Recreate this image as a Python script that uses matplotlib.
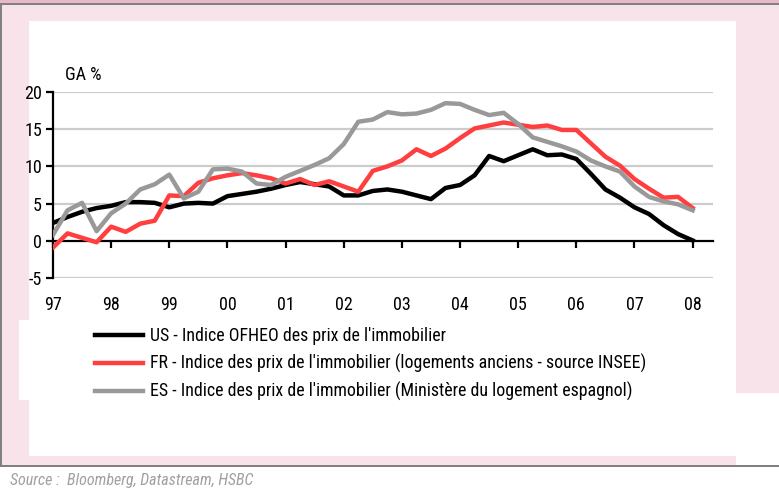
import matplotlib.pyplot as plt
import matplotlib.patches as patches
import numpy as np

plt.rcParams['font.family'] = ['Roboto Condensed', 'Liberation Sans Narrow', 'Arial Narrow',
                               'Liberation Sans', 'DejaVu Sans']
plt.rcParams['axes.unicode_minus'] = False

# quarterly data, 97Q1 -> 08Q1 (y/y % change)
years = ['97', '98', '99', '00', '01', '02', '03', '04', '05', '06', '07', '08']
us = [2.4, 3.2, 3.9, 4.4, 4.7, 5.2, 5.2, 5.1, 4.5, 5.0, 5.1, 5.0,
      6.0, 6.3, 6.6, 7.0, 7.5, 7.9, 7.6, 7.3, 6.1, 6.1, 6.7, 6.9,
      6.6, 6.1, 5.6, 7.1, 7.5, 8.8, 11.4, 10.7, 11.5, 12.3, 11.5, 11.6,
      11.0, 9.0, 6.9, 5.8, 4.5, 3.6, 2.1, 0.9, 0.05]
fr = [-0.9, 1.0, 0.4, -0.2, 1.9, 1.2, 2.3, 2.7, 6.1, 6.0, 7.8, 8.4,
      8.8, 9.1, 8.8, 8.4, 7.7, 8.3, 7.5, 8.0, 7.3, 6.6, 9.4, 10.0,
      10.8, 12.3, 11.4, 12.4, 13.8, 15.1, 15.5, 15.9, 15.6, 15.3, 15.5, 14.9,
      14.9, 13.1, 11.3, 10.1, 8.3, 7.0, 5.8, 5.9, 4.4]
es = [0.8, 4.1, 5.1, 1.3, 3.7, 5.0, 6.9, 7.6, 8.9, 5.7, 6.6, 9.6,
      9.7, 9.3, 7.7, 7.5, 8.6, 9.4, 10.2, 11.1, 13.0, 16.0, 16.3, 17.3,
      17.0, 17.1, 17.6, 18.5, 18.4, 17.6, 16.9, 17.2, 15.7, 13.9, 13.3, 12.7,
      12.0, 10.8, 10.0, 9.3, 7.3, 5.9, 5.3, 4.9, 4.1]

labels = ["US - Indice OFHEO des prix de l'immobilier",
          "FR - Indice des prix de l'immobilier (logements anciens - source INSEE)",
          "ES - Indice des prix de l'immobilier (Ministère du logement espagnol)"]
colors = ['#000000', '#ff3f3f', '#999999']

W, H = 779, 488
fig = plt.figure(figsize=(W / 100, H / 100), dpi=100)
fig.patch.set_facecolor('white')


def px_rect(x0, y0, x1, y1, color):
    fig.patches.append(patches.Rectangle((x0 / W, 1 - y1 / H), (x1 - x0) / W, (y1 - y0) / H,
                                         transform=fig.transFigure, facecolor=color,
                                         edgecolor='none', zorder=-10))


# page frame
px_rect(0, 0, W, 3, '#e9b9c5')
px_rect(0, 3, W, 5, '#808080')
px_rect(2, 5, W, 466, '#f8e3ea')
px_rect(0, 3, 2, 467, '#808080')
px_rect(0, 465, W, 467, '#808080')
px_rect(29, 21, 736, 456, 'white')
px_rect(19, 320, 29, 400, 'white')
px_rect(736, 393, W, 465, 'white')

ax = fig.add_axes([53 / W, 1 - 278 / H, 660 / W, 186 / H])
ax.set_facecolor('none')
ax.set_zorder(5)

x = np.arange(len(us))
for vals, c, lab in zip([us, fr, es], colors, labels):
    ax.plot(x, vals, color=c, lw=3.2, label=lab, zorder=3)

ax.set_ylim(-5, 20)
ax.set_xlim(0, 45.4)
ax.set_yticks([-5, 0, 5, 10, 15, 20])
for v in [-5, 5, 10, 15, 20]:
    ax.axhline(v, color='#cccccc', lw=1.6, zorder=1)

ax.spines['top'].set_visible(False)
ax.spines['right'].set_visible(False)
ax.spines['left'].set_linewidth(1.6)
ax.spines['bottom'].set_position(('data', 0))
ax.spines['bottom'].set_linewidth(1.6)
ax.spines['bottom'].set_zorder(2)

ax.set_xticks(np.arange(0, len(us), 4))
ax.set_xticklabels(years)
ax.tick_params(axis='x', direction='out', length=5, width=1.6, pad=35, labelsize=13)
ax.tick_params(axis='y', direction='out', length=5, width=1.6, pad=3, labelsize=13)

fig.text(65 / W, 1 - 75 / H, 'GA %', fontsize=13, va='center', ha='left')

fig.legend(loc='upper left', bbox_to_anchor=(95 / W, 1 - 327 / H), frameon=False,
           fontsize=12.9, handlelength=2.7, handletextpad=0.35, labelspacing=0.5,
           borderpad=0, borderaxespad=0, handleheight=0.7)

fig.text(10 / W, 1 - 480 / H, 'Source :  Bloomberg, Datastream, HSBC', fontsize=11.5,
         style='italic', color='#a0a0a0', va='center', ha='left')

fig.savefig('out.png', dpi=100)
